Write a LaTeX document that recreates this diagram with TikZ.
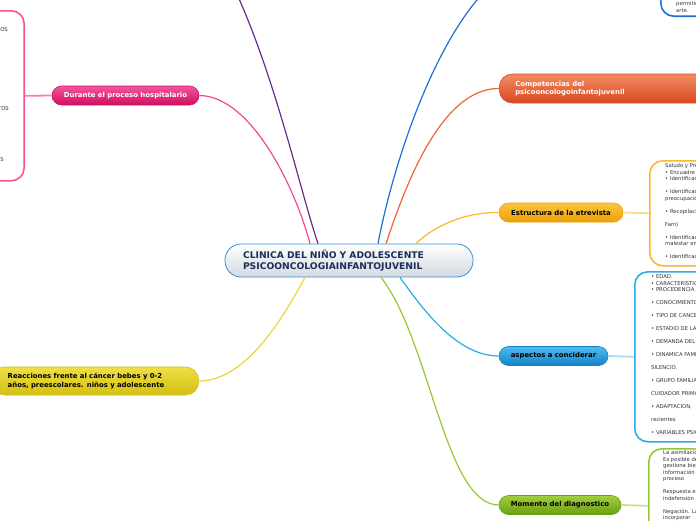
\documentclass[tikz,border=0pt]{standalone}
\usepackage{fontspec}
\setmainfont{DejaVu Sans}
\usetikzlibrary{positioning}
\definecolor{pinktop}{HTML}{F2559A}
\definecolor{pinkbot}{HTML}{D0105F}
\definecolor{pinkline}{HTML}{EE4A94}
\definecolor{redtop}{HTML}{F08C62}
\definecolor{redbot}{HTML}{D9481E}
\definecolor{redline}{HTML}{EE6436}
\definecolor{ambertop}{HTML}{FAC543}
\definecolor{amberbot}{HTML}{EFA000}
\definecolor{amberline}{HTML}{F8B928}
\definecolor{amberpale}{HTML}{FBD98C}
\definecolor{skytop}{HTML}{52BBEE}
\definecolor{skybot}{HTML}{1283C8}
\definecolor{skyline}{HTML}{2EAAE6}
\definecolor{skypale}{HTML}{A6DBF5}
\definecolor{leaftop}{HTML}{A2CE40}
\definecolor{leafbot}{HTML}{6B9F12}
\definecolor{leafline}{HTML}{95C934}
\definecolor{leafpale}{HTML}{C4E28E}
\definecolor{lemontop}{HTML}{EFDF45}
\definecolor{lemonbot}{HTML}{D4BF12}
\definecolor{lemonline}{HTML}{EAD63C}
\definecolor{plum}{HTML}{6A2B8C}
\definecolor{royal}{HTML}{1E6ED6}
\definecolor{centreedge}{HTML}{3A8ED0}
\definecolor{centrebot}{HTML}{D3DAE1}
\definecolor{navytext}{HTML}{1C2E5A}
\definecolor{notetext}{HTML}{333333}

\begin{document}
\begin{tikzpicture}[x=1pt,y=-1pt,
		every node/.style={font=\fontsize{6.9}{8.2}\selectfont\bfseries},
		pill/.style={line width=.6pt,rounded corners=9.5pt,inner sep=0pt,minimum height=19pt},
		note/.style={draw,line width=1.6pt,rounded corners=13pt,fill=white,inner sep=0pt},
		notetxt/.style={inner sep=0pt,align=left,text=notetext,
			font=\fontsize{5.3}{6.5}\selectfont},
		conn/.style={line width=1.2pt},
		lead/.style={line width=1.8pt}]
	\useasboundingbox (0,0) rectangle (696,520);
	\clip (0,0) rectangle (696,520);
	% centre
	\node[draw=centreedge,line width=.8pt,rounded corners=16pt,top color=white,bottom color=centrebot,
		minimum height=33pt,text width=212pt,inner xsep=18pt,align=left,text=navytext,
		font=\fontsize{9.2}{10.5}\selectfont\bfseries] (centre) at (349,260.5)
		{CLINICA DEL NIÑO Y ADOLESCENTE\\PSICOONCOLOGIAINFANTOJUVENIL};
	% branches
	\node[pill,top color=pinktop,bottom color=pinkbot,draw=pinkbot,text=white,minimum width=147pt]
		(durante) at (125.5,95.5) {Durante el proceso hospitalario};
	\node[pill,top color=redtop,bottom color=redbot,draw=redbot,text=white,rounded corners=13pt,
		minimum height=29pt,anchor=west,text width=200pt,inner xsep=16pt,align=left]
		(competencias) at (499,88.5) {Competencias del\\psicooncologoinfantojuvenil};
	\node[pill,top color=ambertop,bottom color=amberbot,draw=amberbot,minimum width=124pt]
		(estructura) at (561,212.5) {Estructura de la etrevista};
	\node[pill,top color=skytop,bottom color=skybot,draw=skybot,minimum width=109pt]
		(aspectos) at (553.5,356) {aspectos a conciderar};
	\node[pill,top color=leaftop,bottom color=leafbot,draw=leafbot,minimum width=122pt]
		(momento) at (560,505) {Momento del diagnostico};
	\node[pill,top color=lemontop,bottom color=lemonbot,draw=lemonbot,rounded corners=13pt,
		minimum height=28pt,anchor=east,text width=175pt,inner xsep=16pt,align=left]
		(reacciones) at (199,381) {Reacciones frente al cáncer bebes y 0-2\\años, preescolares. niños y adolescente};
	\coordinate (plumend) at (236,-8);
	\coordinate (royalend) at (484,-8);
	% connectors
	\draw[conn,pinkline] ([xshift=-39pt]centre.north) .. controls (296,190) and (252,96) .. (durante.east);
	\draw[conn,plum] ([xshift=-31pt]centre.north) .. controls (300,190) and (276,80) .. (plumend);
	\draw[conn,royal] ([xshift=29pt]centre.north) .. controls (392,170) and (430,50) .. (royalend);
	\draw[conn,redline] ([xshift=37pt]centre.north) .. controls (404,190) and (440,88) .. (competencias.west);
	\draw[conn,amberline] ([xshift=67pt]centre.north) .. controls (432,228) and (462,212) .. (estructura.west);
	\draw[conn,skyline] ([xshift=51pt]centre.south) .. controls (420,305) and (455,356) .. (aspectos.west);
	\draw[conn,leafline] ([xshift=32pt]centre.south) .. controls (430,340) and (445,505) .. (momento.west);
	\draw[conn,lemonline] ([xshift=-44pt]centre.south) .. controls (282,320) and (245,381) .. (reacciones.east);
	% notes
	\node[note,draw=pinktop,minimum width=70pt,minimum height=170pt,anchor=north east] (hospitalbox) at (25,10) {};
	\node[note,draw=royal,minimum width=80pt,minimum height=47pt,anchor=south west] (topbox) at (660,17) {};
	\node[note,draw=amberline,minimum width=80pt,minimum height=105pt,anchor=north west] (estructurabox) at (649,160) {};
	\node[note,draw=skyline,minimum width=96pt,minimum height=170pt,anchor=north west] (aspectosbox) at (634,271) {};
	\node[note,draw=leafline,minimum width=80pt,minimum height=114pt,anchor=north west] (momentobox) at (648,448) {};
	\draw[lead,pinkline!70] (durante.west) -- (hospitalbox.east);
	\draw[lead,amberpale] (estructura.east) -- (estructurabox.west);
	\draw[lead,skypale] (aspectos.east) -- (aspectosbox.west);
	\draw[lead,leafpale] (momento.east) -- (momentobox.west);
	% note texts
	\node[notetxt,anchor=base east] (hosptxta) at (8,31) {OS};
	\node[notetxt,anchor=base east] (hosptxtb) at (9,110) {TOS};
	\node[notetxt,anchor=base east] (hosptxtc) at (4,161) {S};
	\node[notetxt,anchor=north west] (toptxt) at (676,-5) {las pe\\permitiendo\\arte.};
	\node[notetxt,anchor=north west] (estructuratxt) at (665,163.5)
		{Saludo y Presentación\\• Encuadre\\• Identificación\\[6.5pt]• Identificación\\preocupación\\[6.5pt]%
		• Recopilación\\[6.5pt]Fam)\\[6.5pt]• Identificación\\malestar emocional\\[6.5pt]• Identificación};
	\node[notetxt,anchor=north west] (aspectostxt) at (651,274.5)
		{• EDAD.\\• CARACTERISTICAS\\• PROCEDENCIA\\[6.5pt]• CONOCIMIENTO\\[6.5pt]• TIPO DE CANCER\\[6.5pt]%
		• ESTADIO DE LA\\[6.5pt]• DEMANDA DEL\\[6.5pt]• DINAMICA FAMILIAR\\[6.5pt]SILENCIO.\\[6.5pt]%
		• GRUPO FAMILIAR\\[6.5pt]CUIDADOR PRIMARIO\\[6.5pt]• ADAPTACION,\\[6.5pt]recientes\\[6.5pt]%
		• VARIABLES PSICOLOGICAS};
	\node[notetxt,anchor=north west] (momentotxt) at (663,450.5)
		{La asimilación\\Es posible de\\gestiona bien la\\información\\proceso\\[6.5pt]%
		Respuesta emocional\\indefensión\\[6.5pt]Negación. La\\incorporar};
\end{tikzpicture}
\end{document}
